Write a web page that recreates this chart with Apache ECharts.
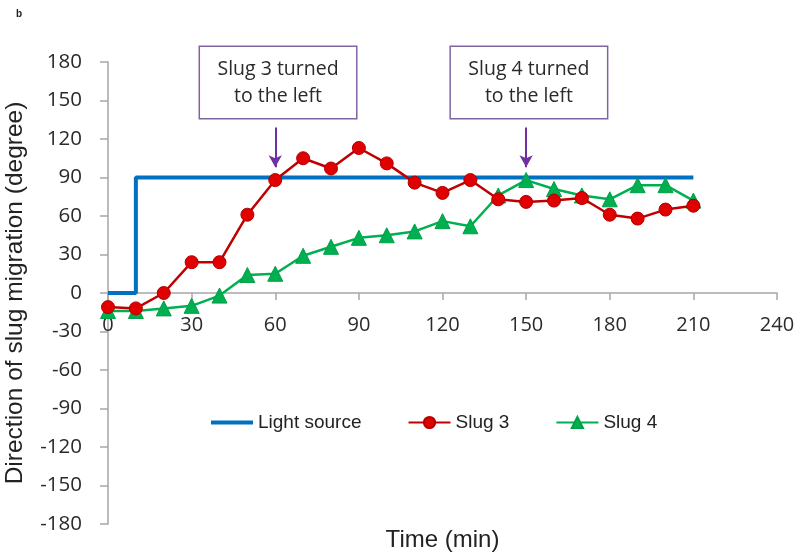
<!DOCTYPE html>
<html>
<head>
<meta charset="utf-8">
<script src="https://cdn.jsdelivr.net/npm/echarts@6/dist/echarts.min.js"></script>
<style>
html,body{margin:0;padding:0;background:#fff;}
#chart{width:800px;height:555px;}
</style>
</head>
<body>
<div id="chart"></div>
<script>
// ---- data ----
const time = [0,10,20,30,40,50,60,70,80,90,100,110,120,130,140,150,160,170,180,190,200,210];
const slug3 = [-11,-12,0,24,24,61,88,105,97,113,101,86,78,88,73,71,72,74,61,58,65,68];
const slug4 = [-14,-14,-12,-10,-2,14,15,29,36,43,45,48,56,52,76,88,81,76,73,84,84,72];
const lightTime = [0,10,10,210];
const lightValue = [0,0,90,90];
const xTicks = [0,30,60,90,120,150,180,210,240];
const yTicks = [-180,-150,-120,-90,-60,-30,0,30,60,90,120,150,180];
const seriesNames = ['Light source','Slug 3','Slug 4'];
const noteText = ['Slug 3 turned\nto the left','Slug 4 turned\nto the left'];
const noteTime = [60,150];

const pair = (xs, ys) => xs.map((x,i)=>[x,ys[i]]);

const chart = echarts.init(document.getElementById('chart'));
const FONT = 'Liberation Sans';
const TICKFONT = 'Open Sans';
const purple = '#7030A0';

function note(i){
  return {
    markPoint: {
      symbol: 'rect',
      symbolSize: [1,1],
      silent: true,
      itemStyle: {color: 'rgba(0,0,0,0)'},
      data: [{coord:[noteTime[i]+1, 164], value: 0}],
      label: {
        show: true,
        formatter: noteText[i],
        position: 'inside',
        fontFamily: 'Open Sans',
        fontSize: 19.5,
        color: '#2a2a2a',
        lineHeight: 27,
        width: 156,
        align: 'center',
        verticalAlign: 'middle',
        padding: [9,0,8,0],
        borderColor: '#8064A2',
        borderWidth: 1.5,
        backgroundColor: '#fff'
      }
    },
    markLine: {
      silent: true,
      symbol: ['none','arrow'],
      symbolSize: [10,12],
      lineStyle: {color: purple, width: 2, type: 'solid'},
      label: {show:false},
      data: [[{coord:[noteTime[i],129]},{coord:[noteTime[i],98]}]]
    }
  };
}

const option = {
  animation: false,
  backgroundColor: '#fff',
  textStyle: {fontFamily: FONT},
  title: {
    text: 'b', left: 11, top: 4,
    textStyle: {fontSize: 10, fontWeight: 'bold', color: '#222', fontFamily: FONT}
  },
  grid: {left: 108, right: 23, top: 62, bottom: 31, containLabel: false, outerBoundsMode: 'none'},
  legend: {
    data: [
      {name: seriesNames[0], itemStyle: {opacity: 0}, lineStyle: {width: 4}},
      {name: seriesNames[1]},
      {name: seriesNames[2]}
    ],
    left: 204, top: 408,
    itemWidth: 42, itemHeight: 14,
    itemGap: 46,
    textStyle: {fontSize: 19, color: '#222', fontFamily: FONT}
  },
  xAxis: {
    type: 'value', min: 0, max: 240, interval: 30,
    name: 'Time (min)', nameLocation: 'middle', nameGap: 235,
    nameTextStyle: {fontSize: 24, color: '#222', fontFamily: FONT},
    axisLine: {onZero: false, lineStyle: {color: '#A6A6A6', width: 1.5}},
    axisTick: {show: true, inside: false, length: 7, lineStyle: {color: '#A6A6A6', width: 1.5}},
    axisLabel: {fontSize: 20, color: '#2a2a2a', margin: 22, fontFamily: TICKFONT, hideOverlap: false,
      formatter: v => xTicks.includes(v) ? String(v) : ''},
    splitLine: {show: false}
  },
  yAxis: {
    type: 'value', min: -180, max: 180, interval: 30,
    name: 'Direction of slug migration (degree)', nameLocation: 'middle', nameGap: 80,
    nameTextStyle: {fontSize: 24.5, color: '#222', fontFamily: FONT},
    axisLine: {show: true, onZero: false, lineStyle: {color: '#A6A6A6', width: 1.5}},
    axisTick: {show: true, inside: false, length: 8, lineStyle: {color: '#A6A6A6', width: 1.5}},
    axisLabel: {fontSize: 20.5, color: '#2a2a2a', margin: 26, fontFamily: TICKFONT, showMinLabel: true, showMaxLabel: true,
      formatter: v => yTicks.includes(v) ? String(v) : ''},
    splitLine: {show: false}
  },
  series: [
    {
      name: seriesNames[0], type: 'line',
      data: pair(lightTime, lightValue),
      symbol: 'none', showSymbol: false,
      lineStyle: {color: '#0070C0', width: 4},
      itemStyle: {color: '#0070C0'},
      z: 2
    },
    Object.assign({
      name: seriesNames[1], type: 'line',
      data: pair(time, slug3),
      symbol: 'circle', symbolSize: 13,
      lineStyle: {color: '#C00000', width: 2.5},
      itemStyle: {color: '#E00000', borderColor: '#B00000', borderWidth: 1},
      z: 4
    }, note(0)),
    Object.assign({
      name: seriesNames[2], type: 'line',
      data: pair(time, slug4),
      symbol: 'triangle', symbolSize: 15,
      lineStyle: {color: '#00B050', width: 2.5},
      itemStyle: {color: '#00B050', borderColor: '#00A048', borderWidth: 1},
      z: 3
    }, note(1))
  ]
};
chart.setOption(option);

// move the x axis up so it crosses the y axis at 0 (like Excel)
const zeroY = chart.convertToPixel({yAxisIndex: 0}, 0);
const bottomY = chart.convertToPixel({yAxisIndex: 0}, -180);
chart.setOption({xAxis: {offset: -(bottomY - zeroY)}});
</script>
</body>
</html>
